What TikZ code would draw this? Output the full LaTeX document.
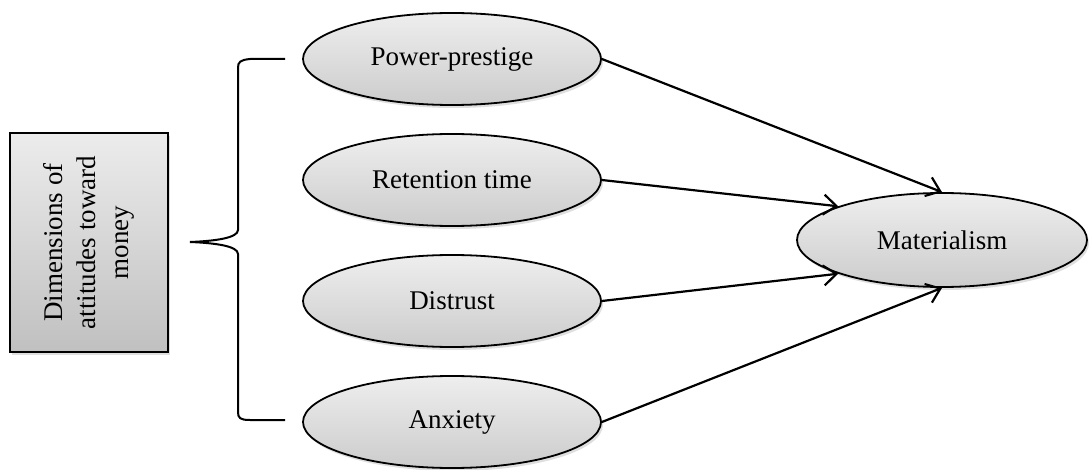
\documentclass[tikz,border=0pt]{standalone}
\usepackage{fontspec}
\setmainfont{Liberation Serif}
\usetikzlibrary{shapes.geometric,arrows.meta,shadows}
\definecolor{shlight}{RGB}{238,238,238}
\definecolor{shdark}{RGB}{204,204,204}
\definecolor{boxlight}{RGB}{236,236,236}
\definecolor{boxdark}{RGB}{192,192,192}
\begin{document}
\begin{tikzpicture}[x=1pt,y=-1pt,
  every node/.style={font=\fontsize{27}{33}\selectfont},
  oval/.style={ellipse, draw=black, line width=1.8pt, inner sep=0pt,
    minimum width=298pt, minimum height=92pt,
    top color=shlight, bottom color=shdark,
    drop shadow={shadow xshift=2pt, shadow yshift=-3pt, opacity=0.25}},
  dimbox/.style={rectangle, draw=black, line width=1.8pt, rotate=90,
    minimum width=219pt, minimum height=158pt, align=center, inner sep=0pt,
    top color=boxlight, bottom color=boxdark,
    drop shadow={shadow xshift=2pt, shadow yshift=-3pt, opacity=0.25}},
  arr/.style={line width=2.2pt, -{Straight Barb[length=13pt,width=20pt,line width=2.2pt]}},
  brace/.style={line width=2pt}]
\useasboundingbox (0,0) rectangle (1089,470);

\node[dimbox] (box) at (89,242.5) {Dimensions of\\attitudes toward\\money};

\node[oval] (pp) at (452,59) {Power-prestige};
\node[oval] (rt) at (452,180) {Retention time};
\node[oval] (dt) at (452,301) {Distrust};
\node[oval] (ax) at (452,422) {Anxiety};

\node[oval, minimum width=290pt, minimum height=94pt] (mat) at (942,240) {Materialism};

% brace
\draw[brace] (285,59) -- (250,59) .. controls (240,60) and (238,62) .. (238,68)
  -- (238,230) .. controls (238,238) and (215,241) .. (190,242)
  .. controls (215,243) and (238,246) .. (238,254)
  -- (238,412) .. controls (238,418) and (240,420) .. (250,420) -- (285,420);

\draw[arr] (pp.east) -- (mat.north);
\draw[arr] (rt.east) -- (mat.162);
\draw[arr] (dt.east) -- (mat.198);
\draw[arr] (ax.east) -- (mat.south);
\end{tikzpicture}
\end{document}
